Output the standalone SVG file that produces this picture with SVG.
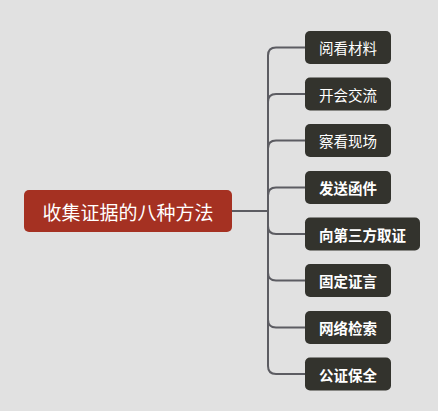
<svg xmlns="http://www.w3.org/2000/svg" width="438" height="411" viewBox="0 0 438 411">
<style>
.bg{fill:#e1e1e1}
.root{fill:#a53122}
.child{fill:#33332d}
.rt{font-family:"Noto Sans CJK SC","Noto Sans",sans-serif;font-size:19px;fill:#ffffff;text-anchor:middle;dominant-baseline:central}
.ct{font-family:"Noto Sans CJK SC","Noto Sans",sans-serif;font-size:14.5px;fill:#ffffff;text-anchor:middle;dominant-baseline:central}
.b{font-weight:bold}
.conn{fill:none;stroke:#5c5c62;stroke-width:2}
</style>
<rect class="bg" x="0" y="0" width="438" height="411"/>
<g id="connectors">
<path class="conn" d="M232 211 H268"/>
<path class="conn" d="M305 47.5 H276 Q268 47.5 268 55.5 V366 Q268 374 276 374 H305"/>
<path class="conn" d="M305 94 H276 Q268 94 268 102"/>
<path class="conn" d="M305 140.5 H276 Q268 140.5 268 148.5"/>
<path class="conn" d="M305 187.5 H276 Q268 187.5 268 195.5"/>
<path class="conn" d="M305 234 H276 Q268 234 268 226"/>
<path class="conn" d="M305 280.5 H276 Q268 280.5 268 272.5"/>
<path class="conn" d="M305 327.5 H276 Q268 327.5 268 319.5"/>
</g>
<g id="root"><rect class="root" x="24" y="190" width="208" height="42" rx="5"/><text class="rt" x="128" y="211">收集证据的八种方法</text></g>
<g id="n1"><rect class="child" x="305" y="31" width="86" height="33" rx="5"/><text class="ct" x="348" y="47.5">阅看材料</text></g>
<g id="n2"><rect class="child" x="305" y="77.5" width="86" height="33" rx="5"/><text class="ct" x="348" y="94">开会交流</text></g>
<g id="n3"><rect class="child" x="305" y="124" width="86" height="33" rx="5"/><text class="ct" x="348" y="140.5">察看现场</text></g>
<g id="n4"><rect class="child" x="305" y="171" width="86" height="33" rx="5"/><text class="ct b" x="348" y="187.5">发送函件</text></g>
<g id="n5"><rect class="child" x="305" y="217.5" width="115" height="33" rx="5"/><text class="ct b" x="362.5" y="234">向第三方取证</text></g>
<g id="n6"><rect class="child" x="305" y="264" width="86" height="33" rx="5"/><text class="ct b" x="348" y="280.5">固定证言</text></g>
<g id="n7"><rect class="child" x="305" y="311" width="86" height="33" rx="5"/><text class="ct b" x="348" y="327.5">网络检索</text></g>
<g id="n8"><rect class="child" x="305" y="357.5" width="86" height="33" rx="5"/><text class="ct b" x="348" y="374">公证保全</text></g>
</svg>
